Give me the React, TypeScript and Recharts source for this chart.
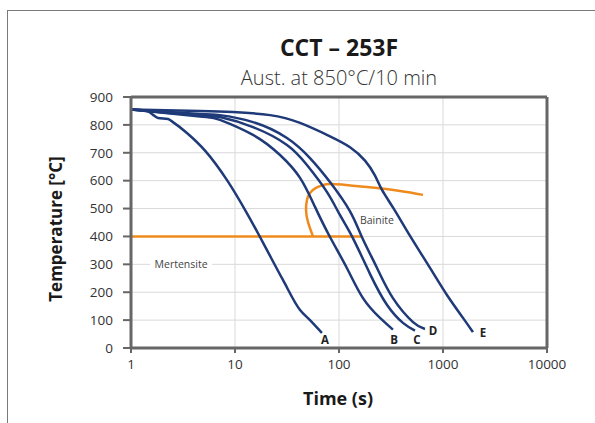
import React from 'react';
import {
  LineChart,
  Line,
  XAxis,
  YAxis,
  CartesianGrid,
  ReferenceLine,
  ReferenceDot,
} from 'recharts';

// ---------- data ----------
const xTicks = [1, 10, 100, 1000, 10000];
const yTicks = [0, 100, 200, 300, 400, 500, 600, 700, 800, 900];

const curveA = [
  { t: 1, T: 855 }, { t: 1.43, T: 850 }, { t: 1.63, T: 836 }, { t: 1.82, T: 825 },
  { t: 2.27, T: 821 }, { t: 2.53, T: 810 }, { t: 3.45, T: 771 }, { t: 5.2, T: 706 },
  { t: 8.38, T: 602 }, { t: 13.0, T: 484 }, { t: 17.4, T: 398 }, { t: 20.3, T: 351 },
  { t: 28.9, T: 244 }, { t: 42.2, T: 136 }, { t: 52.6, T: 100 }, { t: 68.6, T: 54 },
];
const curveB = [
  { t: 1, T: 855 }, { t: 4.61, T: 830 }, { t: 7.17, T: 818 }, { t: 14.9, T: 764 },
  { t: 27.1, T: 692 }, { t: 42.2, T: 610 }, { t: 58.8, T: 506 }, { t: 81.9, T: 398 },
  { t: 119, T: 287 }, { t: 170, T: 179 }, { t: 248, T: 108 }, { t: 330, T: 66 },
];
const curveC = [
  { t: 1, T: 855 }, { t: 4.61, T: 834 }, { t: 7.17, T: 828 }, { t: 14.9, T: 792 },
  { t: 31.6, T: 728 }, { t: 49.2, T: 656 }, { t: 76.7, T: 559 }, { t: 102, T: 477 },
  { t: 136, T: 394 }, { t: 199, T: 265 }, { t: 290, T: 154 }, { t: 412, T: 90 },
  { t: 538, T: 62 },
];
const curveD = [
  { t: 1, T: 855 }, { t: 4.61, T: 839 }, { t: 7.17, T: 835 }, { t: 14.9, T: 810 },
  { t: 31.6, T: 753 }, { t: 52.6, T: 681 }, { t: 81.9, T: 595 }, { t: 127.6, T: 490 },
  { t: 166, T: 398 }, { t: 232, T: 287 }, { t: 330, T: 179 }, { t: 515, T: 93 },
  { t: 671, T: 68 },
];
const curveE = [
  { t: 1, T: 855 }, { t: 4.61, T: 850 }, { t: 9.57, T: 846 }, { t: 21.7, T: 835 },
  { t: 42.2, T: 807 }, { t: 81.9, T: 759 }, { t: 127.6, T: 720 }, { t: 177.8, T: 672 },
  { t: 222, T: 618 }, { t: 259, T: 567 }, { t: 338, T: 498 }, { t: 482, T: 402 },
  { t: 750, T: 287 }, { t: 1091, T: 190 }, { t: 1556, T: 108 }, { t: 1941, T: 57 },
];
const martensiteStart = [
  { t: 1, T: 400 }, { t: 166, T: 400 },
];
const bainiteNose = [
  { t: 56.2, T: 400 }, { t: 50.3, T: 452 }, { t: 48.2, T: 495 }, { t: 49.2, T: 531 },
  { t: 52.6, T: 556 }, { t: 60.1, T: 574 }, { t: 70.2, T: 584 }, { t: 87.5, T: 588 },
  { t: 186, T: 577 }, { t: 386, T: 563 }, { t: 642, T: 549 },
];

const curveNames = ['A', 'B', 'C', 'D', 'E'];
const curveList = [curveA, curveB, curveC, curveD, curveE];
const curveLabelT = [73.3, 338, 562, 801, 2425];
const curveLabelTemp = [32, 29, 29, 61, 54];

const phaseNames = ['Mertensite', 'Bainite'];
const phaseT = [3.03, 232];
const phaseTemp = [300, 459];

const titleText = 'CCT – 253F';
const subtitleText = 'Aust. at 850°C/10 min';
const xTitle = 'Time (s)';
const yTitle = 'Temperature [°C]';

// ---------- styles ----------
const NAVY = '#1f3a78';
const ORANGE = '#ef8b1d';
const AXIS = '#666666';
const GRID = '#d9d9d9';
const FONT = '"Open Sans", "Noto Sans", sans-serif';

export default function App() {
  return (
    <div
      style={{
        position: 'absolute',
        left: 0,
        top: 0,
        width: 595,
        height: 423,
        overflow: 'hidden',
        background: '#fff',
        fontFamily: FONT,
      }}
    >
      <div
        style={{
          position: 'absolute',
          left: 7,
          top: 10,
          width: 620,
          height: 440,
          borderLeft: '1.5px solid #7a7a7a',
          borderTop: '1.5px solid #7a7a7a',
        }}
      />
      <div
        style={{
          position: 'absolute',
          left: 0,
          top: 0,
          width: 595,
          height: 423,
        }}
      >
        <LineChart
          width={595}
          height={423}
          margin={{ top: 97, right: 48, bottom: 45, left: 71 }}
        >
          <CartesianGrid stroke={GRID} strokeWidth={1} />
          <XAxis
            dataKey="t"
            type="number"
            scale="log"
            domain={[1, 10000]}
            ticks={xTicks}
            allowDataOverflow
            height={30}
            axisLine={{ stroke: AXIS, strokeWidth: 3 }}
            tickLine={{ stroke: AXIS, strokeWidth: 2 }}
            tickSize={5}
            tickMargin={6}
            tick={{ fontSize: 13.5, fill: '#333', fontFamily: FONT }}
          />
          <YAxis
            dataKey="T"
            type="number"
            domain={[0, 900]}
            ticks={yTicks}
            allowDataOverflow
            width={60}
            axisLine={{ stroke: AXIS, strokeWidth: 3 }}
            tickLine={{ stroke: AXIS, strokeWidth: 2 }}
            tickSize={8}
            tickMargin={10}
            tick={{ fontSize: 13.5, fill: '#333', fontFamily: FONT }}
          />
          <ReferenceLine y={900} stroke={AXIS} strokeWidth={3} />
          <ReferenceLine x={10000} stroke={AXIS} strokeWidth={3} />
          <Line
            data={martensiteStart}
            dataKey="T"
            type="linear"
            stroke={ORANGE}
            strokeWidth={2.5}
            dot={false}
            isAnimationActive={false}
          />
          <Line
            data={bainiteNose}
            dataKey="T"
            type="natural"
            stroke={ORANGE}
            strokeWidth={2.5}
            dot={false}
            isAnimationActive={false}
          />
          {curveList.map((c, i) => (
            <Line
              key={curveNames[i]}
              data={c}
              dataKey="T"
              type={i === 0 ? 'monotone' : 'natural'}
              stroke={NAVY}
              strokeWidth={2.5}
              dot={false}
              isAnimationActive={false}
            />
          ))}
          {curveNames.map((n, i) => (
            <ReferenceDot
              key={'lbl' + n}
              x={curveLabelT[i]}
              y={curveLabelTemp[i]}
              r={0}
              shape={(p: any) => (
                <text
                  x={p.cx}
                  y={p.cy}
                  textAnchor="middle"
                  dominantBaseline="central"
                  fontSize={11.5}
                  fontWeight={700}
                  fill="#222"
                  fontFamily={FONT}
                >
                  {n}
                </text>
              )}
            />
          ))}
          {phaseNames.map((n, i) => (
            <ReferenceDot
              key={'ph' + n}
              x={phaseT[i]}
              y={phaseTemp[i]}
              r={0}
              shape={(p: any) => (
                <g>
                  {i === 0 && (
                    <rect x={p.cx - 31} y={p.cy - 7} width={62} height={14} fill="#fff" />
                  )}
                  <text
                    x={p.cx}
                    y={p.cy}
                    textAnchor="middle"
                    dominantBaseline="central"
                    fontSize={10.5}
                    fill="#444"
                    fontFamily={FONT}
                  >
                    {n}
                  </text>
                </g>
              )}
            />
          ))}
        </LineChart>
      </div>
      <div
        style={{
          position: 'absolute',
          left: 339,
          top: 47,
          transform: 'translate(-50%, -50%)',
          fontSize: 23,
          fontWeight: 700,
          color: '#1a1a1a',
          whiteSpace: 'nowrap',
        }}
      >
        {titleText}
      </div>
      <div
        style={{
          position: 'absolute',
          left: 339,
          top: 77,
          transform: 'translate(-50%, -50%)',
          fontSize: 20,
          fontWeight: 300,
          color: '#333',
          whiteSpace: 'nowrap',
        }}
      >
        {subtitleText}
      </div>
      <div
        style={{
          position: 'absolute',
          left: 338,
          top: 398,
          transform: 'translate(-50%, -50%)',
          fontSize: 18,
          fontWeight: 700,
          color: '#1a1a1a',
          whiteSpace: 'nowrap',
        }}
      >
        {xTitle}
      </div>
      <div
        style={{
          position: 'absolute',
          left: 55,
          top: 229,
          transform: 'translate(-50%, -50%) rotate(-90deg)',
          fontSize: 17,
          fontWeight: 700,
          color: '#1a1a1a',
          whiteSpace: 'nowrap',
        }}
      >
        {yTitle}
      </div>
    </div>
  );
}
